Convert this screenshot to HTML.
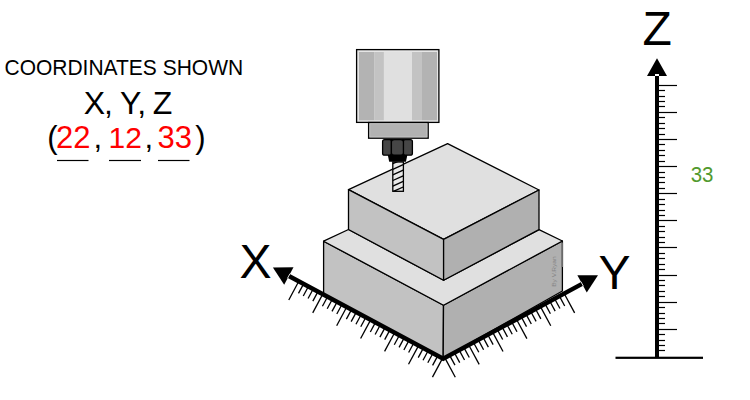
<!DOCTYPE html>
<html><head><meta charset="utf-8"><style>
html,body{margin:0;padding:0;background:#fff;width:750px;height:400px;overflow:hidden}
svg{position:absolute;left:0;top:0;display:block}
text{font-family:"Liberation Sans",sans-serif}
</style></head><body>
<svg width="750" height="400" viewBox="0 0 750 400">
<!-- left labels -->
<text transform="translate(4.5,75) scale(1,1.07)" font-size="21" fill="#000">COORDINATES SHOWN</text>
<text y="114" font-size="32" fill="#000"><tspan x="83.7">X</tspan><tspan x="104">,</tspan><tspan x="120.1">Y,</tspan><tspan x="152.7">Z</tspan></text>
<text y="148.3" font-size="31"><tspan x="47.3" fill="#000">(</tspan><tspan x="56" fill="#ff0000">22</tspan><tspan x="93.5" fill="#000">,</tspan><tspan x="108.5" fill="#ff0000" font-size="30">12</tspan><tspan x="144.6" fill="#000">,</tspan><tspan x="157.5" fill="#ff0000">33</tspan><tspan x="195.3" fill="#000">)</tspan></text>
<g stroke="#000" stroke-width="1.2">
<line x1="57" y1="160.5" x2="88.5" y2="160.5"/>
<line x1="109" y1="160.5" x2="141" y2="160.5"/>
<line x1="158" y1="160.5" x2="189.5" y2="160.5"/>
</g>

<!-- workpiece lower block -->
<g stroke="#000" stroke-width="1.3" stroke-linejoin="round">
<polygon points="323.6,241.2 443.5,305.2 443.2,358.2 323.6,294" fill="#c2c2c2"/>
<polygon points="443.5,305.2 562.4,241 562.4,291 443.2,358.2" fill="#b0b0b0"/>
<polygon points="323.6,241.2 348.5,229.5 443.6,280.3 539,229.6 562.4,241 443.5,305.2" fill="#e0e0e0"/>
<!-- upper block -->
<polygon points="447.6,143.6 539,190 443.6,239.3 348.5,189.6" fill="#e0e0e0"/>
<polygon points="348.5,189.6 443.6,239.3 443.6,280.3 348.5,229.5" fill="#c2c2c2"/>
<polygon points="443.6,239.3 539,190 539,229.6 443.6,280.3" fill="#b0b0b0"/>
</g>
<line x1="562.4" y1="242.5" x2="562.4" y2="267" stroke="#6a6a6a" stroke-width="1.4"/>
<text transform="translate(556.3,286.8) rotate(-90) scale(1,0.85)" font-size="6.6" fill="#858585">By V.Ryan</text>

<!-- spindle -->
<rect x="356.6" y="49.6" width="82.3" height="72.8" fill="#e6e6e6" stroke="#000" stroke-width="1.3"/>
<rect x="359" y="52" width="15.4" height="68.3" fill="#b3b3b3"/>
<rect x="374.4" y="52" width="9.5" height="68.3" fill="#c3c3c3"/>
<rect x="383.9" y="52" width="28.1" height="68.3" fill="#e0e0e0"/>
<rect x="412" y="52" width="10" height="68.3" fill="#c3c3c3"/>
<rect x="422" y="52" width="15" height="68.3" fill="#b3b3b3"/>
<rect x="368.6" y="122.5" width="59.6" height="15.7" fill="#b2b2b2" stroke="#000" stroke-width="1.3"/>
<rect x="369.9" y="123.8" width="57" height="13.1" fill="none" stroke="#c4c4c4" stroke-width="0.8"/>
<rect x="388" y="139" width="19" height="2.5" fill="#000"/><rect x="388" y="153" width="19" height="2.5" fill="#000"/>
<g fill="#464646" stroke="#000" stroke-width="1.3">
<rect x="382.6" y="139.6" width="8.8" height="15.6" rx="2" ry="2"/>
<rect x="403.4" y="139.6" width="9" height="15.6" rx="2" ry="2"/>
<rect x="391.4" y="139.6" width="12" height="15.6" rx="3" ry="2.2"/>
</g>
<polygon points="387.8,155 407.3,155 406,161.8 389.2,161.8" fill="#000"/>
<defs><clipPath id="dc"><rect x="392.8" y="162" width="10.6" height="29.3"/></clipPath></defs>
<rect x="392.8" y="162" width="10.6" height="29.3" fill="#e8e8e8"/>
<g stroke="#000" stroke-width="1.3" clip-path="url(#dc)"><line x1="390" y1="165.00" x2="406" y2="157.70"/><line x1="390" y1="170.60" x2="406" y2="163.30"/><line x1="390" y1="176.20" x2="406" y2="168.90"/><line x1="390" y1="181.80" x2="406" y2="174.50"/><line x1="390" y1="187.40" x2="406" y2="180.10"/><line x1="390" y1="193.00" x2="406" y2="185.70"/><line x1="390" y1="198.60" x2="406" y2="191.30"/></g>
<rect x="392.8" y="162" width="10.6" height="29.3" fill="none" stroke="#000" stroke-width="1.3"/>

<!-- axes -->
<g stroke="#000" stroke-width="1.3">
<line x1="442.50" y1="358.42" x2="432.47" y2="377.10"/><line x1="437.71" y1="355.85" x2="432.60" y2="365.37"/><line x1="432.92" y1="353.28" x2="427.81" y2="362.80"/><line x1="428.13" y1="350.71" x2="423.02" y2="360.23"/><line x1="423.34" y1="348.14" x2="418.23" y2="357.66"/><line x1="418.55" y1="345.57" x2="408.52" y2="364.25"/><line x1="413.76" y1="343.00" x2="408.65" y2="352.51"/><line x1="408.97" y1="340.43" x2="403.86" y2="349.94"/><line x1="404.18" y1="337.86" x2="399.07" y2="347.37"/><line x1="399.39" y1="335.29" x2="394.28" y2="344.80"/><line x1="394.60" y1="332.72" x2="384.57" y2="351.39"/><line x1="389.81" y1="330.14" x2="384.70" y2="339.66"/><line x1="385.02" y1="327.57" x2="379.91" y2="337.09"/><line x1="380.23" y1="325.00" x2="375.12" y2="334.52"/><line x1="375.44" y1="322.43" x2="370.33" y2="331.95"/><line x1="370.65" y1="319.86" x2="360.62" y2="338.54"/><line x1="365.86" y1="317.29" x2="360.75" y2="326.81"/><line x1="361.07" y1="314.72" x2="355.96" y2="324.24"/><line x1="356.28" y1="312.15" x2="351.17" y2="321.67"/><line x1="351.49" y1="309.58" x2="346.38" y2="319.10"/><line x1="346.70" y1="307.01" x2="336.67" y2="325.69"/><line x1="341.91" y1="304.44" x2="336.80" y2="313.95"/><line x1="337.12" y1="301.87" x2="332.01" y2="311.38"/><line x1="332.33" y1="299.30" x2="327.22" y2="308.81"/><line x1="327.54" y1="296.73" x2="322.43" y2="306.24"/><line x1="322.75" y1="294.16" x2="312.73" y2="312.83"/><line x1="317.96" y1="291.58" x2="312.85" y2="301.10"/><line x1="313.17" y1="289.01" x2="308.06" y2="298.53"/><line x1="308.38" y1="286.44" x2="303.27" y2="295.96"/><line x1="303.59" y1="283.87" x2="298.48" y2="293.39"/><line x1="298.80" y1="281.30" x2="288.78" y2="299.98"/>
<line x1="444.87" y1="357.90" x2="455.32" y2="377.26"/><line x1="449.64" y1="355.32" x2="454.96" y2="365.18"/><line x1="454.42" y1="352.75" x2="459.73" y2="362.61"/><line x1="459.19" y1="350.18" x2="464.51" y2="360.03"/><line x1="463.96" y1="347.60" x2="469.28" y2="357.46"/><line x1="468.73" y1="345.03" x2="479.18" y2="364.39"/><line x1="473.50" y1="342.45" x2="478.82" y2="352.31"/><line x1="478.28" y1="339.88" x2="483.59" y2="349.74"/><line x1="483.05" y1="337.31" x2="488.37" y2="347.16"/><line x1="487.82" y1="334.73" x2="493.14" y2="344.59"/><line x1="492.59" y1="332.16" x2="503.04" y2="351.52"/><line x1="497.36" y1="329.58" x2="502.68" y2="339.44"/><line x1="502.14" y1="327.01" x2="507.45" y2="336.87"/><line x1="506.91" y1="324.44" x2="512.23" y2="334.29"/><line x1="511.68" y1="321.86" x2="517.00" y2="331.72"/><line x1="516.45" y1="319.29" x2="526.90" y2="338.65"/><line x1="521.22" y1="316.71" x2="526.54" y2="326.57"/><line x1="526.00" y1="314.14" x2="531.31" y2="324.00"/><line x1="530.77" y1="311.56" x2="536.09" y2="321.42"/><line x1="535.54" y1="308.99" x2="540.86" y2="318.85"/><line x1="540.31" y1="306.42" x2="550.76" y2="325.78"/><line x1="545.08" y1="303.84" x2="550.40" y2="313.70"/><line x1="549.86" y1="301.27" x2="555.17" y2="311.13"/><line x1="554.63" y1="298.69" x2="559.95" y2="308.55"/><line x1="559.40" y1="296.12" x2="564.72" y2="305.98"/><line x1="564.17" y1="293.55" x2="574.62" y2="312.91"/>
</g>
<polyline points="288.85,275.96 443.2,358.8 582.07,283.89" fill="none" stroke="#000" stroke-width="4.5" stroke-linejoin="miter"/>
<polygon points="272.90,267.40 293.53,267.24 284.17,284.68" fill="#000"/>
<line x1="289.99" y1="273.62" x2="287.53" y2="278.20" stroke="#fff" stroke-width="0.8"/>
<polygon points="598.00,275.30 586.77,292.61 577.37,275.18" fill="#000"/>
<line x1="583.39" y1="286.13" x2="580.92" y2="281.56" stroke="#fff" stroke-width="0.8"/>
<text x="239.4" y="278" font-size="48" fill="#000">X</text>
<text x="598.5" y="289" font-size="48" fill="#000">Y</text>

<!-- Z ruler -->
<rect x="655" y="76" width="4" height="282" fill="#000"/>
<polygon points="657,58.2 667,76 647,76" fill="#000"/>
<rect x="655" y="74" width="4" height="2" fill="#fff"/>
<rect x="615.5" y="356.7" width="87.5" height="2.2" fill="#000"/>
<g stroke="#000" stroke-width="1.2">
<line x1="659" y1="85.50" x2="677" y2="85.50"/><line x1="659" y1="90.50" x2="665" y2="90.50"/><line x1="659" y1="96.50" x2="665" y2="96.50"/><line x1="659" y1="101.50" x2="665" y2="101.50"/><line x1="659" y1="106.50" x2="665" y2="106.50"/><line x1="659" y1="112.50" x2="677" y2="112.50"/><line x1="659" y1="117.50" x2="665" y2="117.50"/><line x1="659" y1="123.50" x2="665" y2="123.50"/><line x1="659" y1="128.50" x2="665" y2="128.50"/><line x1="659" y1="134.50" x2="665" y2="134.50"/><line x1="659" y1="139.50" x2="677" y2="139.50"/><line x1="659" y1="144.50" x2="665" y2="144.50"/><line x1="659" y1="150.50" x2="665" y2="150.50"/><line x1="659" y1="155.50" x2="665" y2="155.50"/><line x1="659" y1="161.50" x2="665" y2="161.50"/><line x1="659" y1="166.50" x2="677" y2="166.50"/><line x1="659" y1="172.50" x2="665" y2="172.50"/><line x1="659" y1="177.50" x2="665" y2="177.50"/><line x1="659" y1="182.50" x2="665" y2="182.50"/><line x1="659" y1="188.50" x2="665" y2="188.50"/><line x1="659" y1="193.50" x2="677" y2="193.50"/><line x1="659" y1="199.50" x2="665" y2="199.50"/><line x1="659" y1="204.50" x2="665" y2="204.50"/><line x1="659" y1="210.50" x2="665" y2="210.50"/><line x1="659" y1="215.50" x2="665" y2="215.50"/><line x1="659" y1="220.50" x2="677" y2="220.50"/><line x1="659" y1="226.50" x2="665" y2="226.50"/><line x1="659" y1="231.50" x2="665" y2="231.50"/><line x1="659" y1="237.50" x2="665" y2="237.50"/><line x1="659" y1="242.50" x2="665" y2="242.50"/><line x1="659" y1="247.50" x2="677" y2="247.50"/><line x1="659" y1="253.50" x2="665" y2="253.50"/><line x1="659" y1="258.50" x2="665" y2="258.50"/><line x1="659" y1="264.50" x2="665" y2="264.50"/><line x1="659" y1="269.50" x2="665" y2="269.50"/><line x1="659" y1="275.50" x2="677" y2="275.50"/><line x1="659" y1="280.50" x2="665" y2="280.50"/><line x1="659" y1="285.50" x2="665" y2="285.50"/><line x1="659" y1="291.50" x2="665" y2="291.50"/><line x1="659" y1="296.50" x2="665" y2="296.50"/><line x1="659" y1="302.50" x2="677" y2="302.50"/><line x1="659" y1="307.50" x2="665" y2="307.50"/><line x1="659" y1="313.50" x2="665" y2="313.50"/><line x1="659" y1="318.50" x2="665" y2="318.50"/><line x1="659" y1="323.50" x2="665" y2="323.50"/><line x1="659" y1="329.50" x2="677" y2="329.50"/><line x1="659" y1="334.50" x2="665" y2="334.50"/><line x1="659" y1="340.50" x2="665" y2="340.50"/><line x1="659" y1="345.50" x2="665" y2="345.50"/><line x1="659" y1="350.50" x2="665" y2="350.50"/>
</g>
<text x="642.6" y="45" font-size="48" fill="#000">Z</text>
<text transform="translate(690.7,182.2) scale(1,1.09)" font-size="20.5" fill="#529a2e">33</text>
</svg>
</body></html>
